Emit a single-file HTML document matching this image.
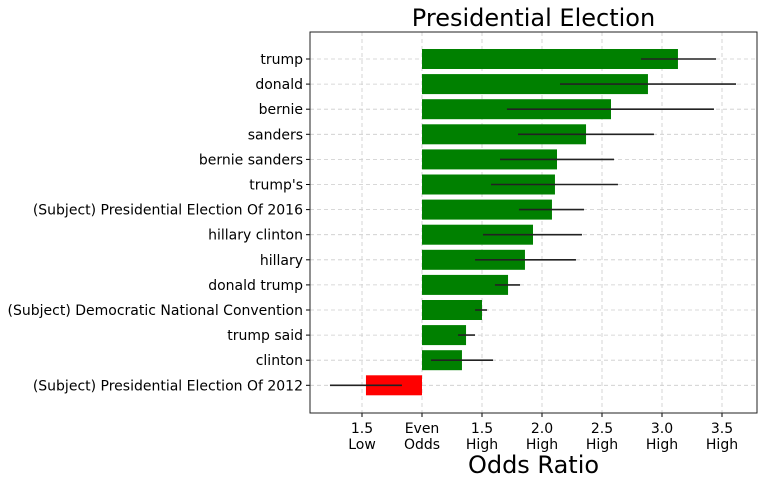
<!DOCTYPE html>
<html><head><meta charset="utf-8"><style>
body{margin:0;background:#fff;font-family:"DejaVu Sans",sans-serif}
</style></head><body>
<svg id="chart" width="763" height="485" xmlns="http://www.w3.org/2000/svg" font-family="DejaVu Sans, sans-serif"></svg>
<script>
const categories=["trump","donald","bernie","sanders","bernie sanders","trump's","(Subject) Presidential Election Of 2016","hillary clinton","hillary","donald trump","(Subject) Democratic National Convention","trump said","clinton","(Subject) Presidential Election Of 2012"];
const values=[3.133,2.883,2.575,2.367,2.125,2.108,2.083,1.925,1.858,1.717,1.5,1.367,1.333,0.533];
const errLow=[2.825,2.15,1.708,1.8,1.65,1.575,1.808,1.508,1.442,1.608,1.442,1.3,1.075,0.233];
const errHigh=[3.45,3.617,3.433,2.933,2.6,2.633,2.35,2.333,2.283,1.817,1.542,1.442,1.592,0.833];
const tickValues=[0.5,1,1.5,2,2.5,3,3.5];
const tickLine1=["1.5","Even","1.5","2.0","2.5","3.0","3.5"];
const tickLine2=["Low","Odds","High","High","High","High","High"];
const svg=document.getElementById('chart');
const NS='http://www.w3.org/2000/svg';
const L=310,R=757,T=32,B=413,baseline=1;
const x=v=>422+(v-1)*120;
const rowStep=25.1,row0=59;
const y=i=>row0+i*rowStep;
function mk(t,a,p){const e=document.createElementNS(NS,t);for(const k in a)e.setAttribute(k,a[k]);(p||svg).appendChild(e);return e;}
tickValues.forEach(v=>{const g=mk('line',{x1:x(v),x2:x(v),y1:T,y2:B,stroke:'#ccc','stroke-dasharray':'4,3','stroke-width':0.8});

});
categories.forEach((c,i)=>{const g=mk('line',{x1:L,x2:R,y1:y(i),y2:y(i),stroke:'#ccc','stroke-dasharray':'4,3','stroke-width':0.8});

});
categories.forEach((c,i)=>{
 const v=values[i];const x0=Math.min(x(v),x(baseline)),w=Math.abs(x(v)-x(baseline));
 const b=mk('rect',{x:x0,y:y(i)-10,width:w,height:20,fill:v>=baseline?'#008000':'#ff0000'});
 
 
 const e=mk('line',{x1:x(errLow[i]),x2:x(errHigh[i]),y1:y(i),y2:y(i),stroke:'#222','stroke-width':1.6});
 
 
 const t=mk('text',{x:L-7,y:y(i)+5,'text-anchor':'end','font-size':14,fill:'#000'});t.textContent=c;
 
 
 const tk=mk('line',{x1:L-4,x2:L,y1:y(i),y2:y(i),stroke:'#000'});
 
 
});
tickValues.forEach((v,i)=>{
 const tk=mk('line',{x1:x(v),x2:x(v),y1:B,y2:B+4,stroke:'#000'});
 
 
 const t=mk('text',{x:x(v),y:B+20,'text-anchor':'middle','font-size':14});t.textContent=tickLine1[i];
 
 
 const t2=mk('text',{x:x(v),y:B+36,'text-anchor':'middle','font-size':14});t2.textContent=tickLine2[i];
 
 
});
const fr=mk('rect',{x:L,y:T,width:R-L,height:B-T,fill:'none',stroke:'#222','stroke-width':1});


const ti=mk('text',{x:(L+R)/2,y:26,'text-anchor':'middle','font-size':24});ti.textContent='Presidential Election';


const xl=mk('text',{x:(L+R)/2,y:473,'text-anchor':'middle','font-size':24});xl.textContent='Odds Ratio';


</script>
</body></html>
